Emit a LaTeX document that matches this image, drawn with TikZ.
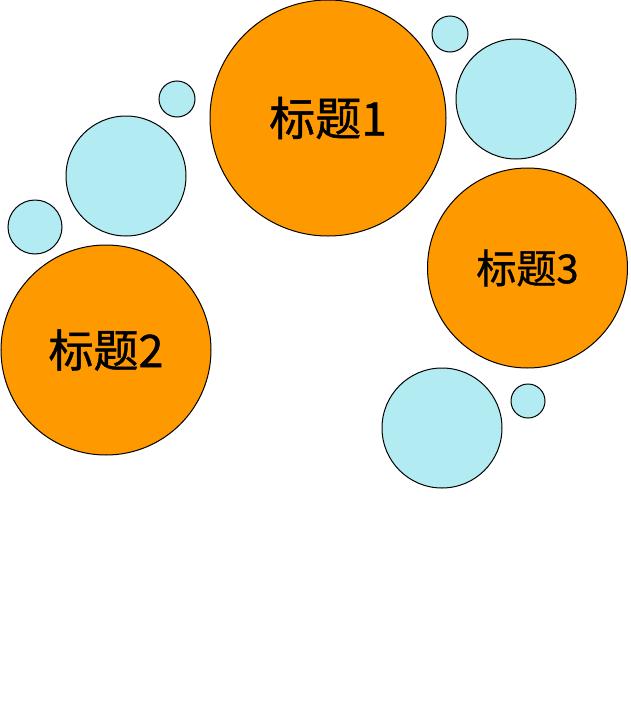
\documentclass[tikz,border=0pt]{standalone}
\usepackage{fontspec}
\newfontfamily\cjk[FakeBold=1]{Noto Sans CJK SC}
\usetikzlibrary{positioning}

\definecolor{topicorange}{HTML}{FF9900}
\definecolor{bubbleblue}{HTML}{B2EBF2}

\begin{document}
\begin{tikzpicture}[x=1pt,y=-1pt,line width=1pt]
\tikzstyle{topic}=[circle,fill=topicorange,draw=black,text=black,inner sep=0pt,font=\cjk]
\tikzstyle{bubble}=[circle,fill=bubbleblue,draw=black,inner sep=0pt]
\useasboundingbox (0,0) rectangle (630,707);

% main topics
\node[topic,minimum size=236pt,font=\cjk\fontsize{46}{52}\selectfont] (T1) at (328,118) {标题1};
\node[topic,minimum size=210pt,font=\cjk\fontsize{45}{50}\selectfont] (T2) at (106,350) {标题2};
\node[topic,minimum size=200pt,font=\cjk\fontsize{40}{46}\selectfont] (T3) at (527.5,268) {标题3};

% bubbles
\node[bubble,minimum size=36pt] (B1) at (177,99) {};
\node[bubble,minimum size=120pt] (B2) at (126,176) {};
\node[bubble,minimum size=54pt] (B3) at (35,227) {};
\node[bubble,minimum size=36pt] (B4) at (450,34) {};
\node[bubble,minimum size=120pt] (B5) at (516,99) {};
\node[bubble,minimum size=120pt] (B6) at (442,428) {};
\node[bubble,minimum size=34pt] (B7) at (528,401) {};
\end{tikzpicture}
\end{document}
